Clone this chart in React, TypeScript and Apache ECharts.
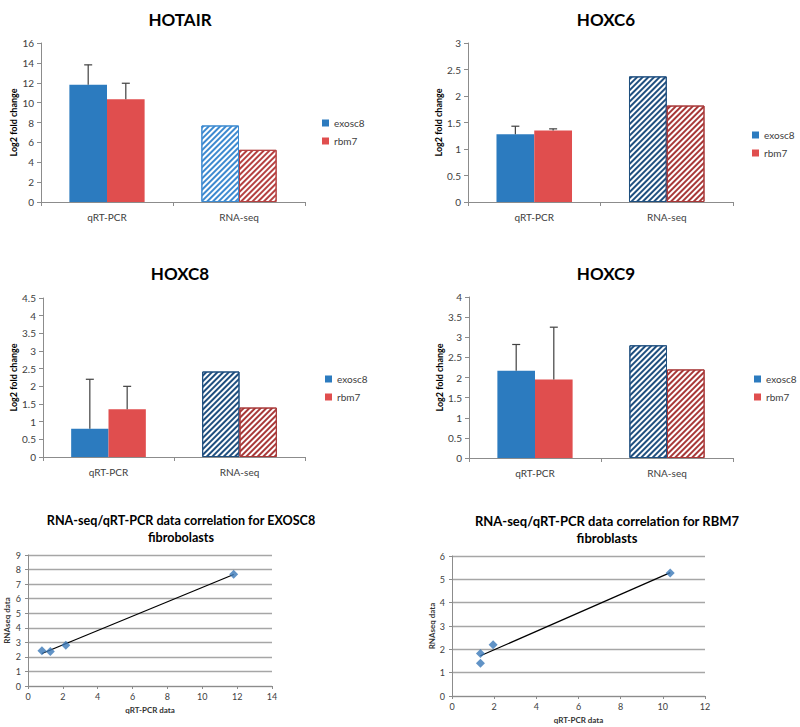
import React, { useEffect, useRef } from "react";
import * as echarts from "echarts";

// ---------- data ----------
const barCategories = ["qRT-PCR", "RNA-seq"];
const seriesNames = ["exosc8", "rbm7"];

const geneTitles = ["HOTAIR", "HOXC6", "HOXC8", "HOXC9"];

const hotairExosc8 = [11.8, 7.7];
const hotairRbm7 = [10.35, 5.25];
const hotairErrors = [2.0, 1.6]; // qRT-PCR error (exosc8, rbm7)

const hoxc6Exosc8 = [1.28, 2.37];
const hoxc6Rbm7 = [1.35, 1.82];
const hoxc6Errors = [0.15, 0.03];

const hoxc8Exosc8 = [0.8, 2.42];
const hoxc8Rbm7 = [1.35, 1.4];
const hoxc8Errors = [1.4, 0.65];

const hoxc9Exosc8 = [2.17, 2.8];
const hoxc9Rbm7 = [1.95, 2.2];
const hoxc9Errors = [0.65, 1.3];

const barYMax = [16, 3, 4.5, 4];
const barYInterval = [2, 0.5, 0.5, 0.5];

const exosc8QrtPcr = [0.8, 1.28, 2.17, 11.8];
const exosc8RnaSeq = [2.42, 2.37, 2.8, 7.68];
const rbm7QrtPcr = [1.35, 1.35, 1.95, 10.35];
const rbm7RnaSeq = [1.82, 1.4, 2.2, 5.27];

const scatterTitles = [
  "RNA-seq/qRT-PCR data correlation for EXOSC8\nfibrobolasts",
  "RNA-seq/qRT-PCR data correlation for RBM7\nfibroblasts",
];
const scatterXMax = [14, 12];
const scatterYMax = [9, 6];

// ---------- styling ----------
const BLUE = "#2c7bbf";
const RED = "#e04e4e";
const FONT = "Lato, 'Open Sans', sans-serif";
const AXIS_GRAY = "#8c8c8c";
const LABEL_GRAY = "#404040";
const CAT_GAP = 0.43;

const barGrids = [
  { left: 41, top: 43, width: 264, height: 159 },
  { left: 468, top: 43, width: 265, height: 159 },
  { left: 43, top: 298, width: 262, height: 159 },
  { left: 469, top: 297, width: 264, height: 161 },
];
const legendPos = [
  { left: 317, top: 113 },
  { left: 747, top: 125 },
  { left: 320, top: 369 },
  { left: 749, top: 369 },
];
const titlePos = [
  { x: 180, y: 19 },
  { x: 606, y: 19 },
  { x: 180, y: 273 },
  { x: 606, y: 273 },
];
const hatchColors = [
  ["#3d8ad0", "#b54141"],
  ["#1f4f7f", "#a83838"],
  ["#1f4f7f", "#a83838"],
  ["#1f4f7f", "#a83838"],
];
const scatterGrids = [
  { left: 28, top: 555, width: 244, height: 131 },
  { left: 452, top: 556, width: 253, height: 140 },
];
const scatterTitlePos = [
  { x: 181, y: 529 },
  { x: 607, y: 529 },
];
const scatterTitleSize = [12.6, 13];

function fitLine(xs: number[], ys: number[]) {
  const n = xs.length;
  const mx = xs.reduce((a, b) => a + b, 0) / n;
  const my = ys.reduce((a, b) => a + b, 0) / n;
  let sxy = 0;
  let sxx = 0;
  for (let i = 0; i < n; i++) {
    sxy += (xs[i] - mx) * (ys[i] - my);
    sxx += (xs[i] - mx) * (xs[i] - mx);
  }
  const slope = sxy / sxx;
  const icpt = my - slope * mx;
  const x0 = Math.min(...xs);
  const x1 = Math.max(...xs);
  return [
    [x0, icpt + slope * x0],
    [x1, icpt + slope * x1],
  ];
}

function hatch(color: string) {
  return {
    symbol: "rect",
    symbolSize: 1,
    color,
    dashArrayX: [1, 0],
    dashArrayY: [1.6, 1.5],
    rotation: -Math.PI / 4,
  };
}

function buildOption() {
  const grids: any[] = [];
  const xAxes: any[] = [];
  const yAxes: any[] = [];
  const series: any[] = [];
  const legends: any[] = [];
  const graphics: any[] = [];

  const barSets = [
    [hotairExosc8, hotairRbm7, hotairErrors],
    [hoxc6Exosc8, hoxc6Rbm7, hoxc6Errors],
    [hoxc8Exosc8, hoxc8Rbm7, hoxc8Errors],
    [hoxc9Exosc8, hoxc9Rbm7, hoxc9Errors],
  ];

  barSets.forEach((set, g) => {
    grids.push({ ...barGrids[g], containLabel: false });
    xAxes.push({
      type: "category",
      gridIndex: g,
      data: barCategories,
      axisLine: { lineStyle: { color: AXIS_GRAY } },
      axisTick: { show: true, length: 4, lineStyle: { color: AXIS_GRAY } },
      axisLabel: { color: LABEL_GRAY, fontSize: 10, fontFamily: FONT, margin: 10 },
    });
    yAxes.push({
      type: "value",
      gridIndex: g,
      min: 0,
      max: barYMax[g],
      interval: barYInterval[g],
      name: "Log2 fold change",
      nameLocation: "middle",
      nameGap: g === 0 ? 23 : 25,
      nameTextStyle: { fontSize: 9, fontWeight: "bold", color: "#000", fontFamily: FONT },
      axisLine: { show: true, lineStyle: { color: AXIS_GRAY } },
      axisTick: { show: true, length: 4, lineStyle: { color: AXIS_GRAY } },
      splitLine: { show: false },
      axisLabel: { color: LABEL_GRAY, fontSize: 10, fontFamily: FONT, margin: 7 },
    });
    [0, 1].forEach((s) => {
      const base = s === 0 ? BLUE : RED;
      const vals = set[s] as number[];
      series.push({
        type: "bar",
        name: seriesNames[s],
        xAxisIndex: g,
        yAxisIndex: g,
        barGap: "0%",
        barCategoryGap: CAT_GAP * 100 + "%",
        itemStyle: { color: base },
        data: vals.map((v, i) =>
          i === 0
            ? { value: v }
            : {
                value: v,
                itemStyle: {
                  color: "#ffffff",
                  borderColor: hatchColors[g][s],
                  borderWidth: 1,
                  decal: hatch(hatchColors[g][s]),
                },
              }
        ),
      });
    });
    // error bars on qRT-PCR bars
    const errs = set[2] as number[];
    series.push({
      type: "custom",
      xAxisIndex: g,
      yAxisIndex: g,
      silent: true,
      z: 5,
      data: [0, 1].map((s) => {
        const v = (set[s] as number[])[0];
        return [0, v + errs[s], v, s];
      }),
      renderItem: (params: any, api: any) => {
        const cat = api.value(0);
        const top = api.value(1);
        const bottom = api.value(2);
        const side = api.value(3);
        const band = api.size([1, 0])[0];
        const barW = (band * (1 - CAT_GAP)) / 2;
        const cx = api.coord([cat, 0])[0] + (side === 0 ? -barW / 2 : barW / 2);
        const y0 = api.coord([cat, bottom])[1];
        const y1 = api.coord([cat, top])[1];
        const st = { stroke: "#404040", lineWidth: 1.2 };
        return {
          type: "group",
          children: [
            { type: "line", shape: { x1: cx, y1: y0, x2: cx, y2: y1 }, style: st },
            { type: "line", shape: { x1: cx - 4, y1: y1, x2: cx + 4, y2: y1 }, style: st },
          ],
        };
      },
    });
    legends.push({
      ...legendPos[g],
      orient: "vertical",
      data: seriesNames,
      icon: "rect",
      itemWidth: 7,
      itemHeight: 7,
      itemGap: 8,
      selectedMode: false,
      textStyle: { fontSize: 10, color: LABEL_GRAY, fontFamily: FONT },
    });
    graphics.push({
      type: "text",
      x: titlePos[g].x,
      y: titlePos[g].y,
      style: {
        text: geneTitles[g],
        fill: "#000",
        font: "bold 17px " + FONT,
        align: "center",
        verticalAlign: "middle",
        textAlign: "center",
        textVerticalAlign: "middle",
      },
    });
  });

  const scatterSets = [
    [exosc8QrtPcr, exosc8RnaSeq],
    [rbm7QrtPcr, rbm7RnaSeq],
  ];
  scatterSets.forEach((set, k) => {
    const g = 4 + k;
    grids.push({ ...scatterGrids[k], containLabel: false });
    xAxes.push({
      type: "value",
      gridIndex: g,
      min: 0,
      max: scatterXMax[k],
      interval: 2,
      name: "qRT-PCR data",
      nameLocation: "middle",
      nameGap: 20,
      nameTextStyle: { fontSize: 8, fontWeight: "bold", color: "#333", fontFamily: FONT },
      axisLine: { show: true, onZero: false, lineStyle: { color: AXIS_GRAY } },
      axisTick: { show: true, length: 3, lineStyle: { color: AXIS_GRAY } },
      splitLine: { show: false },
      axisLabel: { color: LABEL_GRAY, fontSize: 9, fontFamily: FONT, margin: 6 },
    });
    yAxes.push({
      type: "value",
      gridIndex: g,
      min: 0,
      max: scatterYMax[k],
      interval: 1,
      name: "RNAseq data",
      nameLocation: "middle",
      nameGap: k === 0 ? 17 : 15,
      nameTextStyle: { fontSize: 8, fontWeight: "bold", color: "#333", fontFamily: FONT },
      axisLine: { show: true, onZero: false, lineStyle: { color: AXIS_GRAY } },
      axisTick: { show: true, length: 3, lineStyle: { color: AXIS_GRAY } },
      splitLine: { show: true, lineStyle: { color: "#a6a6a6", width: 1.3 } },
      axisLabel: { color: LABEL_GRAY, fontSize: 9, fontFamily: FONT, margin: 7 },
    });
    series.push({
      type: "line",
      xAxisIndex: g,
      yAxisIndex: g,
      data: fitLine(set[0], set[1]),
      symbol: "none",
      lineStyle: { color: "#000", width: 1.2 },
      z: 3,
      silent: true,
    });
    series.push({
      type: "scatter",
      xAxisIndex: g,
      yAxisIndex: g,
      data: set[0].map((x, i) => [x, set[1][i]]),
      symbol: "diamond",
      symbolSize: 9,
      itemStyle: { color: "#3a78b8" },
      z: 4,
    });
    graphics.push({
      type: "text",
      x: scatterTitlePos[k].x,
      y: scatterTitlePos[k].y,
      style: {
        text: scatterTitles[k],
        fill: "#000",
        font: "bold " + scatterTitleSize[k] + "px " + FONT,
        lineHeight: 17,
        align: "center",
        verticalAlign: "middle",
        textAlign: "center",
        textVerticalAlign: "middle",
      },
    });
  });

  return {
    animation: false,
    backgroundColor: "#ffffff",
    grid: grids,
    xAxis: xAxes,
    yAxis: yAxes,
    legend: legends,
    series,
    graphic: graphics,
  };
}

export default function App() {
  const ref = useRef<HTMLDivElement>(null);
  useEffect(() => {
    if (!ref.current) return;
    const chart = echarts.init(ref.current, undefined, { renderer: "svg" });
    chart.setOption(buildOption() as any);
    return () => chart.dispose();
  }, []);
  return (
    <div
      ref={ref}
      style={{ position: "absolute", left: 0, top: 0, width: 800, height: 727, background: "#fff" }}
    />
  );
}
